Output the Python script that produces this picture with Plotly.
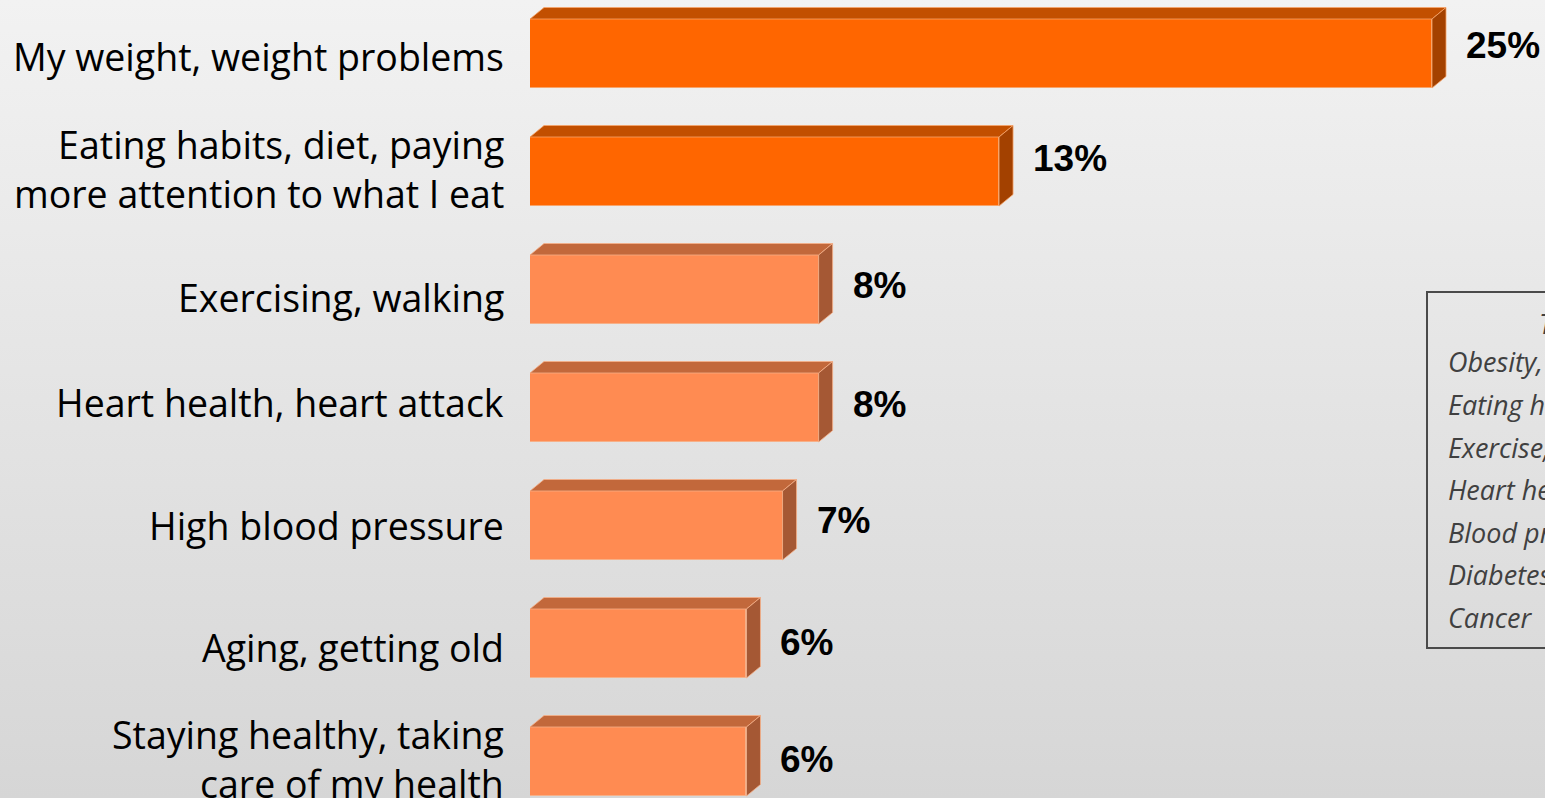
import base64
import plotly.graph_objects as go

# ---- data ----
categories = [
    "My weight, weight problems",
    "Eating habits, diet, paying<br>more attention to what I eat",
    "Exercising, walking",
    "Heart health, heart attack",
    "High blood pressure",
    "Aging, getting old",
    "Staying healthy, taking<br>care of my health",
]
values = [25, 13, 8, 8, 7, 6, 6]
highlight = [True, True, False, False, False, False, False]

box_title = "Top Health Concerns"
box_items = ["Obesity, overweight", "Eating habits, nutrition", "Exercise, fitness",
             "Heart health", "Blood pressure", "Diabetes", "Cancer"]

# ---- geometry / style ----
W, H = 1545, 798
LEFT = 530                      # left edge of plot area (px)
PX_PER_UNIT = 36.08             # px per percentage point
ROW = 118.0                     # px per category row
FIRST_CENTER = 53.5             # px of first bar centre
BAR_PX = 69.0                   # front face height (px)
DEPTH_X, DEPTH_Y = 14.0, 11.5   # 3-D offset (px)
LABEL_NUDGE_PX = [-8, -13, -4.5, -3, -5, -1, -2]      # value labels, vertical shift
CAT_NUDGE_PX = [2.5, -3, 8, -5, 0, 4, -2.5]           # category labels, vertical shift
CAT_GAP_PX = 24                                       # gap between labels and bars

plot_w = W - LEFT
x_max = plot_w / PX_PER_UNIT
y_top = -FIRST_CENTER / ROW
y_bot = (H - FIRST_CENTER) / ROW

dx = DEPTH_X / PX_PER_UNIT
dy = DEPTH_Y / ROW
half = BAR_PX / ROW / 2

FRONT = {True: "#FF6600", False: "#FF8B52"}
TOP = {True: "#C24F00", False: "#C2683B"}
SIDE = {True: "#A34100", False: "#A55834"}
EDGE = {True: "#F7A46A", False: "#F6B088"}

pos = list(range(len(categories)))

fig = go.Figure()

# front faces
fig.add_trace(go.Bar(
    x=values, y=pos, orientation="h", width=BAR_PX / ROW,
    marker=dict(color=[FRONT[h] for h in highlight],
                line=dict(color=[EDGE[h] for h in highlight], width=1)),
    hoverinfo="skip", showlegend=False,
))

# top and side faces of each box
for v, p, h in zip(values, pos, highlight):
    top_y = p - half
    bot_y = p + half
    fig.add_trace(go.Scatter(
        x=[0, v, v + dx, dx, 0],
        y=[top_y, top_y, top_y - dy, top_y - dy, top_y],
        fill="toself", fillcolor=TOP[h], mode="lines",
        line=dict(color=EDGE[h], width=0.8),
        hoverinfo="skip", showlegend=False,
    ))
    fig.add_trace(go.Scatter(
        x=[v, v + dx, v + dx, v, v],
        y=[top_y, top_y - dy, bot_y - dy, bot_y, top_y],
        fill="toself", fillcolor=SIDE[h], mode="lines",
        line=dict(color=EDGE[h], width=0.8),
        hoverinfo="skip", showlegend=False,
    ))

# value labels
label_gap = 32 / PX_PER_UNIT
for v, p, n in zip(values, pos, LABEL_NUDGE_PX):
    fig.add_annotation(
        x=v + label_gap, y=p + n / ROW, xref="x", yref="y",
        text=f"<b>{v}%</b>", showarrow=False, xanchor="left", yanchor="middle",
        font=dict(family="Liberation Sans, Arial", size=37, color="#000000"),
    )

# category labels, right-aligned left of the bars
for cat, p, n in zip(categories, pos, CAT_NUDGE_PX):
    fig.add_annotation(
        xref="paper", yref="y", x=-CAT_GAP_PX / plot_w, y=p + n / ROW,
        text=cat, showarrow=False, xanchor="right", yanchor="middle", align="right",
        font=dict(family="Open Sans", size=37.5, color="#000000"),
    )

# side box (runs off the right edge)
def px_x(px):
    return (px - LEFT) / plot_w

def px_y(py):
    return 1 - py / H

fig.add_shape(type="rect", xref="paper", yref="paper",
              x0=px_x(1427), x1=px_x(1700), y0=px_y(648), y1=px_y(292),
              line=dict(color="#4A4A4A", width=2), fillcolor="rgba(0,0,0,0)")
fig.add_annotation(xref="paper", yref="paper", x=px_x(1537), y=px_y(323),
                   text=box_title, showarrow=False, xanchor="left", yanchor="middle",
                   font=dict(family="Open Sans", size=27, color="#404040", style="italic"))
for i, item in enumerate(box_items):
    fig.add_annotation(xref="paper", yref="paper", x=px_x(1446), y=px_y(362 + 42.5 * i),
                       text=item, showarrow=False, xanchor="left", yanchor="middle",
                       font=dict(family="Open Sans", size=27, color="#404040", style="italic"))

# soft vertical background gradient
svg = (f'<svg xmlns="http://www.w3.org/2000/svg" width="{W}" height="{H}">'
       '<defs><linearGradient id="g" x1="0" y1="0" x2="0" y2="1">'
       '<stop offset="0" stop-color="#F2F2F2"/><stop offset="1" stop-color="#D6D6D6"/>'
       '</linearGradient></defs>'
       f'<rect width="{W}" height="{H}" fill="url(#g)"/></svg>')
bg_src = "data:image/svg+xml;base64," + base64.b64encode(svg.encode()).decode()

fig.update_layout(
    width=W, height=H,
    margin=dict(l=LEFT, r=0, t=0, b=0, autoexpand=False),
    paper_bgcolor="#E4E4E4", plot_bgcolor="rgba(0,0,0,0)",
    images=[dict(source=bg_src, xref="paper", yref="paper",
                 x=-LEFT / plot_w, y=1, sizex=W / plot_w, sizey=1,
                 sizing="stretch", layer="below", xanchor="left", yanchor="top")],
    xaxis=dict(range=[0, x_max], visible=False, fixedrange=True, automargin=False),
    yaxis=dict(range=[y_bot, y_top], visible=False, fixedrange=True, automargin=False),
    bargap=0,
)

fig.write_html("out.html", config={"displayModeBar": False})
